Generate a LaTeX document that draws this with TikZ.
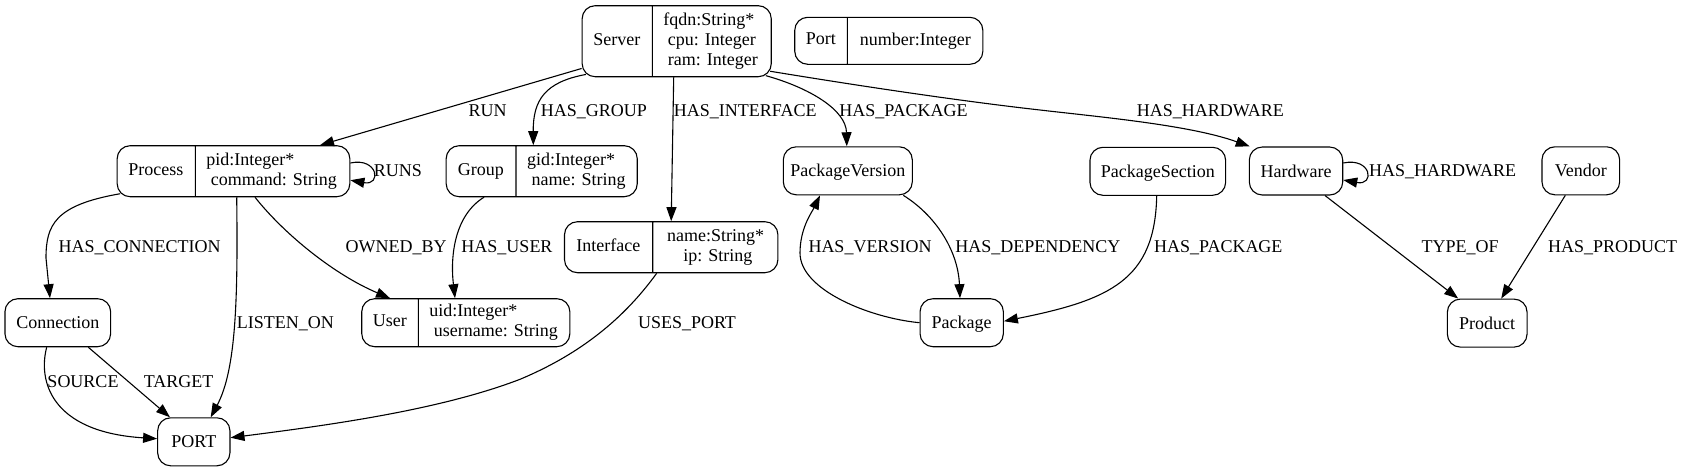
\documentclass[tikz,border=0pt]{standalone}
\usepackage{fontspec}
\setmainfont{Liberation Serif}
\usetikzlibrary{arrows.meta,shapes.multipart}

\newcommand{\rs}{\rule[-4pt]{0pt}{16pt}}
\newcommand{\rhead}[3]{\parbox[c][#2][c]{#1}{\centering\rs #3}}
\newcommand{\rbody}[3]{\parbox[c][#2][c]{#1}{\raggedright\leftskip=10.5pt #3}}

\begin{document}
\begin{tikzpicture}[
    x=1pt, y=-1pt,
    font=\fontsize{18pt}{20pt}\selectfont,
    box/.style={draw, rounded corners=13pt, line width=1.1pt, minimum height=48pt, text height=16pt, text depth=4pt, inner sep=0pt},
    record/.style={draw, rounded corners=13pt, line width=1.1pt, rectangle split, rectangle split horizontal, rectangle split parts=2, inner sep=0pt},
    edge/.style={-{Triangle[length=14pt,width=10pt]}, line width=1.1pt},
    lbl/.style={text height=16pt, text depth=4pt, inner sep=0pt}
]
    \useasboundingbox (0,0) rectangle (1683,472);

    % Records
    \node[record] (server) at (676.7,41.2) {\rhead{69.6pt}{71pt}{Server}\nodepart{two}\rbody{118.4pt}{71pt}{\rs fqdn:String*\\\rs~cpu: Integer\\\rs~ram: Integer}};
    \node[record] (portrec) at (888.8,40.8) {\rhead{52pt}{47pt}{Port}\nodepart{two}\rhead{135pt}{47pt}{number:Integer}};
    \node[record] (process) at (233.5,171.2) {\rhead{77.6pt}{51pt}{Process}\nodepart{two}\rbody{154pt}{51pt}{\rs pid:Integer*\\\rs~command: String}};
    \node[record] (group) at (541.7,171.2) {\rhead{69.3pt}{51pt}{Group}\nodepart{two}\rbody{120.7pt}{51pt}{\rs gid:Integer*\\\rs~name: String}};
    \node[record] (iface) at (671.2,247.2) {\rhead{87.7pt}{51pt}{Interface}\nodepart{two}\parbox[c][51pt][c]{124.6pt}{\centering\rs name:String*\\\rs~ip: String}};
    \node[record] (user) at (465.8,322.7) {\rhead{56pt}{48pt}{User}\nodepart{two}\rbody{151pt}{48pt}{\rs uid:Integer*\\\rs~username: String}};

    % Plain boxes
    \node[box, minimum width=129pt] (pkgver) at (847.8,170.8) {PackageVersion};
    \node[box, minimum width=135.7pt] (pkgsec) at (1157.8,171.3) {PackageSection};
    \node[box, minimum width=93.4pt] (hardware) at (1296,171) {Hardware};
    \node[box, minimum width=77.7pt] (vendor) at (1580.8,170.8) {Vendor};
    \node[box, minimum width=105.7pt] (connection) at (57.8,322.7) {Connection};
    \node[box, minimum width=83.3pt] (package) at (961.7,322.7) {Package};
    \node[box, minimum width=79.7pt] (product) at (1487.2,323.1) {Product};
    \node[box, minimum width=72.3pt] (port) at (193.8,441.8) {PORT};

    % Edges from Server
    \draw[edge] (server.196) -- ([xshift=86.5pt]process.north);
    \draw[edge] ([xshift=4.3pt,yshift=2.8pt]server.south west) .. controls (545,82) and (533,100) .. ([xshift=-8.4pt]group.north);
    \draw[edge] ([xshift=-3pt]server.south) -- (iface.north);
    \draw[edge] ([xshift=-6pt,yshift=1.6pt]server.south east) .. controls (810,88) and (846,110) .. ([xshift=-1pt]pkgver.north);
    \draw[edge] ([xshift=-1.6pt,yshift=6pt]server.south east) .. controls (860,86) and (960,101) .. (1040,110)
        .. controls (1100,117) and (1190,125) .. ([xshift=1pt]hardware.north west);

    % Edges from Process, Group, Interface
    \draw[edge] ([yshift=8.2pt]process.east) .. controls (378,157) and (382,186) .. ([yshift=-9pt]process.east);
    \draw[edge] ([xshift=3.5pt,yshift=3.5pt]process.south west) .. controls (55,205) and (46,225) .. (46,258) -- ([xshift=-7.8pt]connection.north);
    \draw[edge] ([xshift=3.2pt]process.south) .. controls (238,300) and (236,370) .. ([xshift=16.9pt]port.north);
    \draw[edge] ([xshift=21.5pt]process.south) .. controls (285,235) and (335,275) .. ([xshift=-75.8pt]user.north);
    \draw[edge] ([xshift=-57.7pt]group.south) .. controls (455,215) and (450,255) .. ([xshift=-10.8pt]user.north);
    \draw[edge] ([xshift=-14.5pt]iface.south) .. controls (630,310) and (590,350) .. (520,379.3)
        .. controls (440,410) and (330,425) .. ([yshift=4.1pt]port.east);

    % Edges from Connection
    \draw[edge] ([xshift=-11.1pt]connection.south) .. controls (38,380) and (50,432) .. ([yshift=3.1pt]port.west);
    \draw[edge] ([xshift=30.5pt]connection.south) -- ([xshift=-23.8pt]port.north);

    % Package edges
    \draw[edge] (package.west) .. controls (870,318) and (800,290) .. (800,253)
        .. controls (800,228) and (812,212) .. ([xshift=-27.8pt]pkgver.south);
    \draw[edge] ([xshift=55.5pt]pkgver.south) .. controls (935,215) and (958,250) .. ([xshift=-1.7pt]package.north);
    \draw[edge] ([xshift=-1.1pt]pkgsec.south) .. controls (1155,280) and (1110,300) .. ([yshift=1.5pt]package.east);

    % Hardware and Vendor edges
    \draw[edge] ([yshift=8pt]hardware.east) .. controls (1371.4,157) and (1375.4,186) .. ([yshift=-9pt]hardware.east);
    \draw[edge] ([xshift=29pt]hardware.south) -- ([xshift=-29pt]product.north);
    \draw[edge] ([xshift=-15.5pt]vendor.south) -- ([xshift=14pt]product.north);

    % Labels
    \node[lbl] (lRun) at (487.7,110) {RUN};
    \node[lbl] (lGroup) at (594,110) {HAS\_GROUP};
    \node[lbl] (lIface) at (745.3,110) {HAS\_INTERFACE};
    \node[lbl] (lPkg) at (903.5,110) {HAS\_PACKAGE};
    \node[lbl] (lHw) at (1210.3,110) {HAS\_HARDWARE};
    \node[lbl] (lRuns) at (397.8,170.7) {RUNS};
    \node[lbl] (lHwLoop) at (1442.5,170.7) {HAS\_HARDWARE};
    \node[lbl] (lConn) at (139.7,246) {HAS\_CONNECTION};
    \node[lbl] (lOwned) at (396.2,246) {OWNED\_BY};
    \node[lbl] (lUser) at (507,246) {HAS\_USER};
    \node[lbl] (lVersion) at (870,246) {HAS\_VERSION};
    \node[lbl] (lDep) at (1037.8,246) {HAS\_DEPENDENCY};
    \node[lbl] (lSecPkg) at (1218.3,246) {HAS\_PACKAGE};
    \node[lbl] (lType) at (1460,246.7) {TYPE\_OF};
    \node[lbl] (lProduct) at (1612.5,246.7) {HAS\_PRODUCT};
    \node[lbl] (lListen) at (285.3,322.7) {LISTEN\_ON};
    \node[lbl] (lUses) at (687,322) {USES\_PORT};
    \node[lbl] (lSource) at (83,381.7) {SOURCE};
    \node[lbl] (lTarget) at (178.7,381.7) {TARGET};
\end{tikzpicture}
\end{document}
